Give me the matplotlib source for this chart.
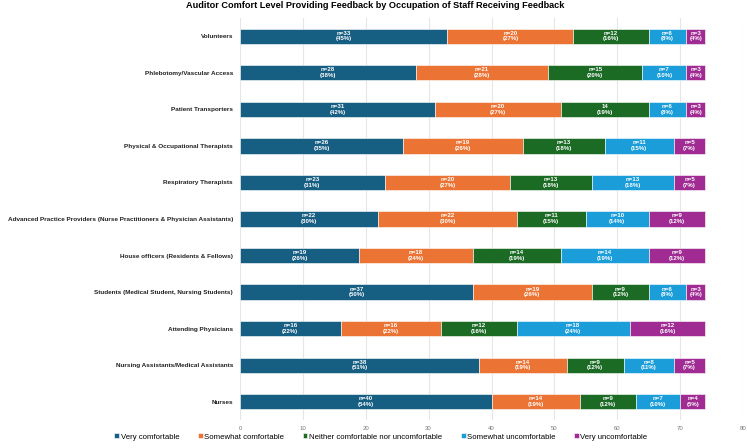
import matplotlib
matplotlib.use("Agg")
import matplotlib.pyplot as plt
import numpy as np

plt.rcParams['font.family'] = ['Liberation Sans', 'DejaVu Sans']

categories = [
    "Nurses",
    "Nursing Assistants/Medical Assistants",
    "Attending Physicians",
    "Students (Medical Student, Nursing Students)",
    "House officers (Residents & Fellows)",
    "Advanced Practice Providers (Nurse Practitioners & Physician Assistants)",
    "Respiratory Therapists",
    "Physical & Occupational Therapists",
    "Patient Transporters",
    "Phlebotomy/Vascular Access",
    "Volunteers",
]
series_names = ["Very comfortable", "Somewhat comfortable",
                "Neither comfortable nor uncomfortable",
                "Somewhat uncomfortable", "Very uncomfortable"]
very_comf = [40, 38, 16, 37, 19, 22, 23, 26, 31, 28, 33]
some_comf = [14, 14, 16, 19, 18, 22, 20, 19, 20, 21, 20]
neither = [9, 9, 12, 9, 14, 11, 13, 13, 14, 15, 12]
some_uncomf = [7, 8, 18, 6, 14, 10, 13, 11, 6, 7, 6]
very_uncomf = [4, 5, 12, 3, 9, 9, 5, 5, 3, 3, 3]
pct_very_comf = [54, 51, 22, 50, 26, 30, 31, 35, 42, 38, 45]
pct_some_comf = [19, 19, 22, 26, 24, 30, 27, 26, 27, 28, 27]
pct_neither = [12, 12, 16, 12, 19, 15, 18, 18, 19, 20, 16]
pct_some_uncomf = [10, 11, 24, 8, 19, 14, 18, 15, 8, 10, 8]
pct_very_uncomf = [5, 7, 16, 4, 12, 12, 7, 7, 4, 4, 4]
# label prefix shown in the chart ("n=" except one segment shown without it)
prefix_neither = ["n=", "n=", "n=", "n=", "n=", "n=", "n=", "n=", "", "n=", "n="]
x_ticks = [0, 10, 20, 30, 40, 50, 60, 70, 80]

colors = ["#175E83", "#EB7334", "#1C6B25", "#1A9DD8", "#A02B93"]

values = [very_comf, some_comf, neither, some_uncomf, very_uncomf]
pcts = [pct_very_comf, pct_some_comf, pct_neither, pct_some_uncomf, pct_very_uncomf]
prefixes = [["n="] * len(categories), ["n="] * len(categories), prefix_neither,
            ["n="] * len(categories), ["n="] * len(categories)]

fig = plt.figure(figsize=(7.48, 4.48), dpi=100)
ax = fig.add_axes([240 / 748, 1 - 420 / 448, (743 - 240) / 748, (420 - 18) / 448])

y = np.arange(len(categories))
left = np.zeros(len(categories))
for vals, pc, pre, col, name in zip(values, pcts, prefixes, colors, series_names):
    vals = np.array(vals, dtype=float)
    bars = ax.barh(y, vals, left=left, height=0.42, color=col, label=name,
                   edgecolor="white", linewidth=0.4, zorder=3)
    for i, b in enumerate(bars):
        cx = b.get_x() + b.get_width() / 2
        cy = b.get_y() + b.get_height() / 2
        ax.text(cx, cy + 0.015, f"{pre[i]}{int(vals[i])}",
                ha="center", va="bottom", color="white", fontsize=4.4,
                fontweight="bold", zorder=4)
        ax.text(cx, cy - 0.005, f"({pc[i]}%)",
                ha="center", va="top", color="white", fontsize=4.4,
                fontweight="bold", zorder=4)
    left += vals

ax.set_xlim(0, 80)
ax.set_ylim(-0.5, len(categories) - 0.5)
ax.set_yticks(y)
ax.set_yticklabels(categories, fontsize=4.6, fontweight="bold", color="#222222")
ax.set_xticks(x_ticks)
ax.set_xticklabels([str(t) for t in x_ticks], fontsize=4.3, color="#777777")
ax.tick_params(axis="x", length=0, pad=4)
ax.tick_params(axis="y", length=0, pad=5)
for s in ax.spines.values():
    s.set_visible(False)
ax.grid(axis="x", color="#e6e6e6", linewidth=0.8, zorder=0)
ax.set_axisbelow(True)

fig.suptitle("Auditor Comfort Level Providing Feedback by Occupation of Staff Receiving Feedback",
             fontsize=6.6, fontweight="bold", x=375 / 748, y=1 - 1 / 448, va="top")

fig.legend(loc="center", bbox_to_anchor=(381 / 748, 1 - 437 / 448), ncol=5,
           fontsize=5.6, frameon=False, handlelength=0.6, handleheight=0.6,
           handletextpad=0.2, columnspacing=2.4)

fig.savefig("out.png", dpi=100)
